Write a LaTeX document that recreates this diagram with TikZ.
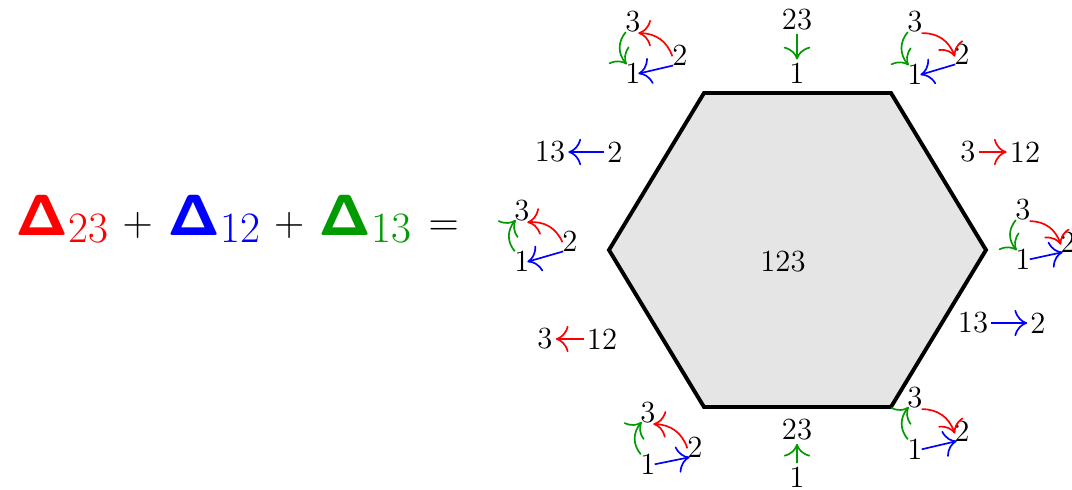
\documentclass[tikz,border=0pt]{standalone}
\usepackage{amsmath}
\usepackage{tikz}
\usetikzlibrary{arrows.meta, positioning}
\definecolor{hexgray}{RGB}{229,229,229}
\definecolor{dgreen}{RGB}{0,155,0}
\tikzset{
  lbl/.style={inner sep=1pt,font=\fontsize{11}{13}\selectfont},
  tri/.style={lbl,inner sep=0pt},
  hexface/.style={draw=black,line width=1.4pt,fill=hexgray,line join=miter},
  arr/.style={->,>={To[scale=1.55]},line width=0.6pt},
  redarr/.style={arr,color=red},
  greenarr/.style={arr,color=dgreen},
  bluearr/.style={arr,color=blue},
  triarr/.style={shorten >=-1pt,shorten <=-0.5pt}
}
\newcommand{\Dterm}[2]{\textcolor{#1}{{\fontsize{22}{24}\selectfont\boldmath$\mathsf{\Delta}$}\raisebox{-2.8pt}{#2}}}

\begin{document}
\begin{tikzpicture}[x=0.01258cm,y=-0.01258cm]
  \useasboundingbox (0,0) rectangle (1072,490);

  %% Equation
  \node[anchor=base west,inner sep=0pt,font=\fontsize{15.5}{18}\selectfont] (eq) at (15,235)
    {\Dterm{red}{23}\hspace{5pt}$+$\hspace{5pt}\Dterm{blue}{12}\hspace{5pt}$+$\hspace{5pt}\Dterm{dgreen}{13}\hspace{6pt}$=$};

  %% Hexagon
  \draw[hexface] (704,93) -- (891,93) -- (986,250) -- (891,407) -- (704,407) -- (609,250) -- cycle;
  \node[lbl] (mid) at (783,262) {123};

  %% Edge labels
  \node[lbl] (t23) at (797,20) {23};
  \node[lbl] (t1) at (797,73) {1};
  \node[lbl] (u23) at (797,430) {23};
  \node[lbl] (u1) at (797,477) {1};
  \node[lbl] (p13) at (550,152) {13};
  \node[lbl] (p2) at (615,152) {2};
  \node[lbl] (q3) at (545,339) {3};
  \node[lbl] (q12) at (602,339) {12};
  \node[lbl] (r3) at (968,152) {3};
  \node[lbl] (r12) at (1025,152) {12};
  \node[lbl] (s13) at (973,323) {13};
  \node[lbl] (s2) at (1038,323) {2};

  \draw[greenarr] (t23) -- (t1);
  \draw[greenarr] (u1) -- (u23);
  \draw[bluearr] (p2) -- (p13);
  \draw[redarr] (q12) -- (q3);
  \draw[redarr] (r3) -- (r12);
  \draw[bluearr] (s13) -- (s2);

  %% Vertex triangles
  \begin{scope}[every path/.append style={triarr}]
  \node[tri] (a3) at (633,22) {3};
  \node[tri] (a2) at (680,55) {2};
  \node[tri] (a1) at (633,73) {1};
  \draw[greenarr] (a3.south west) to[bend right=40] (a1.north west);
  \draw[redarr] (a2.west) to[bend right=35] (a3.south east);
  \draw[bluearr] (a2.south west) -- (a1.east);

  \node[tri] (b3) at (915,22) {3};
  \node[tri] (b2) at (962,54) {2};
  \node[tri] (b1) at (915,74) {1};
  \draw[greenarr] (b3.south west) to[bend right=40] (b1.north west);
  \draw[redarr] (b3.south east) to[bend left=35] (b2.west);
  \draw[bluearr] (b2.south west) -- (b1.east);

  \node[tri] (c3) at (522,211) {3};
  \node[tri] (c2) at (570,241) {2};
  \node[tri] (c1) at (522,261) {1};
  \draw[greenarr] (c1.north west) to[bend left=40] (c3.south west);
  \draw[redarr] (c2.west) to[bend right=35] (c3.south east);
  \draw[bluearr] (c2.south west) -- (c1.east);

  \node[tri] (d3) at (1023,210) {3};
  \node[tri] (d2) at (1068,242) {2};
  \node[tri] (d1) at (1023,259) {1};
  \draw[greenarr] (d3.south west) to[bend right=40] (d1.north west);
  \draw[redarr] (d3.south east) to[bend left=35] (d2.west);
  \draw[bluearr] (d1.east) -- (d2.south west);

  \node[tri] (e3) at (648,413) {3};
  \node[tri] (e2) at (695,447) {2};
  \node[tri] (e1) at (648,464) {1};
  \draw[greenarr] (e1.north west) to[bend left=40] (e3.south west);
  \draw[redarr] (e2.west) to[bend right=35] (e3.south east);
  \draw[bluearr] (e1.east) -- (e2.south west);

  \node[tri] (f3) at (915,398) {3};
  \node[tri] (f2) at (962,431) {2};
  \node[tri] (f1) at (915,449) {1};
  \draw[greenarr] (f1.north west) to[bend left=40] (f3.south west);
  \draw[redarr] (f3.south east) to[bend left=35] (f2.west);
  \draw[bluearr] (f1.east) -- (f2.south west);
  \end{scope}
\end{tikzpicture}
\end{document}
